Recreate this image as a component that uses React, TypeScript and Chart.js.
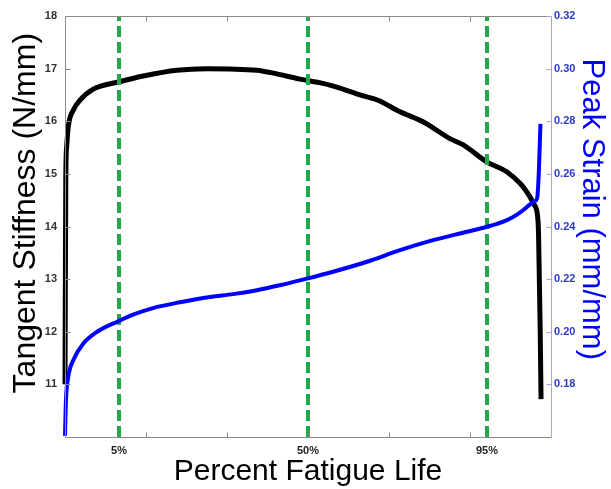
import { useEffect, useRef } from 'react';
import { Chart, registerables } from 'chart.js';

Chart.register(...registerables);

// Cycle axis in arbitrary units (0..6)
const stiffnessX = [0, 0.01, 0.021, 0.041, 0.102, 0.185, 0.349, 0.67, 0.967, 1.379, 1.749, 2.367, 2.614, 2.901, 3.185, 3.395, 3.642, 3.864, 4.136, 4.42, 4.753, 4.917, 5.206, 5.453, 5.617, 5.691, 5.741, 5.79, 5.823, 5.84, 5.846, 5.856, 5.867, 5.877];
const stiffness = [11.0, 14.95, 15.52, 15.9, 16.21, 16.4, 16.61, 16.75, 16.86, 16.97, 17.0, 16.97, 16.9, 16.8, 16.72, 16.63, 16.5, 16.4, 16.18, 15.99, 15.67, 15.55, 15.23, 15.04, 14.82, 14.68, 14.56, 14.42, 14.31, 14.1, 13.87, 13.0, 12.0, 10.72];

const strainX = [0, 0.012, 0.041, 0.102, 0.226, 0.391, 0.658, 0.84, 1.086, 1.42, 1.79, 2.074, 2.37, 2.654, 2.988, 3.309, 3.728, 4.136, 4.543, 4.963, 5.21, 5.333, 5.457, 5.58, 5.667, 5.741, 5.79, 5.827, 5.846, 5.858, 5.87];
const strain = [0.1605, 0.174, 0.183, 0.1892, 0.1955, 0.1999, 0.204, 0.2065, 0.209, 0.2112, 0.2132, 0.2143, 0.2158, 0.2177, 0.2202, 0.2228, 0.2266, 0.231, 0.2348, 0.238, 0.2399, 0.241, 0.2424, 0.2445, 0.2465, 0.2484, 0.2495, 0.2505, 0.258, 0.268, 0.279];

const markerX = [0.667, 3.0, 5.21];
const markerLabels = ['5%', '50%', '95%'];
const xTickMarks = [1, 2, 3, 4, 5];
const leftTicks = [11, 12, 13, 14, 15, 16, 17, 18];
const rightTicks = [0.18, 0.2, 0.22, 0.24, 0.26, 0.28, 0.3, 0.32];

const FONT = '"Liberation Sans", Arial, sans-serif';
const GREEN = '#1faa4a';
const AXIS_GRAY = '#8a8a8a';
const AXIS_BLUE = '#a4a4ea';

const axesPlugin = {
  id: 'matlabAxes',
  afterDatasetsDraw(chart: any) {
    const { ctx, chartArea, scales } = chart;
    const { left, right, top, bottom } = chartArea;
    const L = Math.round(left) + 0.5;
    const R = Math.round(right) + 0.5;
    const T = Math.round(top) + 0.5;
    const B = Math.round(bottom) + 0.5;
    ctx.save();
    ctx.lineWidth = 1;
    ctx.strokeStyle = AXIS_GRAY;
    ctx.beginPath();
    ctx.moveTo(R, T);
    ctx.lineTo(L, T);
    ctx.lineTo(L, B);
    ctx.lineTo(R, B);
    xTickMarks.forEach((v) => {
      const px = Math.round(scales.x.getPixelForValue(v)) + 0.5;
      ctx.moveTo(px, B);
      ctx.lineTo(px, B - 5);
      ctx.moveTo(px, T);
      ctx.lineTo(px, T + 5);
    });
    leftTicks.forEach((v) => {
      const py = Math.round(scales.y.getPixelForValue(v)) + 0.5;
      ctx.moveTo(L, py);
      ctx.lineTo(L + 5, py);
    });
    ctx.stroke();
    ctx.strokeStyle = AXIS_BLUE;
    ctx.beginPath();
    ctx.moveTo(R, T);
    ctx.lineTo(R, B);
    rightTicks.forEach((v) => {
      const py = Math.round(scales.y1.getPixelForValue(v)) + 0.5;
      ctx.moveTo(R, py);
      ctx.lineTo(R - 5, py);
    });
    ctx.stroke();
    ctx.restore();
  },
};

export default function App() {
  const ref = useRef<HTMLCanvasElement | null>(null);

  useEffect(() => {
    if (!ref.current) return;
    const markerSets = markerX.map((m) => ({
      label: 'marker',
      data: [
        { x: m, y: 10 },
        { x: m, y: 18 },
      ],
      yAxisID: 'y',
      borderColor: GREEN,
      borderWidth: 4,
      borderDash: [11, 5],
      pointRadius: 0,
      fill: false,
    }));
    const chart = new Chart(ref.current, {
      type: 'line',
      data: {
        datasets: [
          {
            label: 'Peak Strain',
            data: strainX.map((x, i) => ({ x, y: strain[i] })),
            yAxisID: 'y1',
            borderColor: '#0000ff',
            borderWidth: 4,
            pointRadius: 0,
            cubicInterpolationMode: 'monotone',
            clip: 6,
            fill: false,
          },
          ...markerSets,
          {
            label: 'Tangent Stiffness',
            data: stiffnessX.map((x, i) => ({ x, y: stiffness[i] })),
            yAxisID: 'y',
            borderColor: '#000000',
            borderWidth: 5,
            pointRadius: 0,
            cubicInterpolationMode: 'monotone',
            clip: 6,
            fill: false,
          },
        ] as any,
      },
      options: {
        responsive: false,
        animation: false,
        devicePixelRatio: 1,
        layout: { padding: { top: 16, left: 0, right: 0, bottom: 0 } },
        plugins: { legend: { display: false }, tooltip: { enabled: false } },
        scales: {
          x: {
            type: 'linear',
            min: 0,
            max: 6,
            grid: { display: false, drawTicks: false },
            border: { display: false },
            afterBuildTicks: (s: any) => {
              s.ticks = markerX.map((v) => ({ value: v }));
            },
            afterFit: (s: any) => {
              s.height = 52;
            },
            ticks: {
              autoSkip: false,
              maxRotation: 0,
              padding: 7,
              color: '#222222',
              font: { family: FONT, size: 11, weight: 'bold' },
              callback: (_v: any, i: number) => markerLabels[i],
            },
            title: {
              display: true,
              text: 'Percent Fatigue Life',
              color: '#000000',
              font: { family: FONT, size: 30, lineHeight: 1 },
              padding: { top: 0, bottom: 2 },
            },
          },
          y: {
            type: 'linear',
            position: 'left',
            min: 10,
            max: 18,
            grid: { display: false, drawTicks: false },
            border: { display: false },
            afterBuildTicks: (s: any) => {
              s.ticks = leftTicks.map((v) => ({ value: v }));
            },
            afterFit: (s: any) => {
              s.width = 65;
            },
            ticks: {
              padding: 8,
              color: '#333333',
              font: { family: FONT, size: 11, weight: 'bold' },
              callback: (v: any) => String(v),
            },
            title: {
              display: true,
              text: '   Tangent Stiffness (N/mm)',
              color: '#000000',
              font: { family: FONT, size: 32, lineHeight: 1 },
              padding: { top: 10, bottom: 0 },
            },
          },
          y1: {
            type: 'linear',
            position: 'right',
            min: 0.16,
            max: 0.32,
            grid: { display: false, drawTicks: false },
            border: { display: false },
            afterBuildTicks: (s: any) => {
              s.ticks = rightTicks.map((v) => ({ value: v }));
            },
            afterFit: (s: any) => {
              s.width = 60;
            },
            ticks: {
              padding: 3,
              color: '#2a3acb',
              font: { family: FONT, size: 11, weight: 'bold' },
              callback: (v: any) => Number(v).toFixed(2),
            },
            title: {
              display: true,
              text: 'Peak Strain (mm/mm)    ',
              color: '#0000ff',
              font: { family: FONT, size: 31, lineHeight: 1 },
              padding: { top: 4, bottom: 0 },
            },
          },
        },
      } as any,
      plugins: [axesPlugin],
    });
    return () => chart.destroy();
  }, []);

  return (
    <div style={{ position: 'fixed', left: 0, top: 0, width: 611, height: 489, background: '#ffffff' }}>
      <canvas ref={ref} width={611} height={489} style={{ display: 'block' }} />
    </div>
  );
}
